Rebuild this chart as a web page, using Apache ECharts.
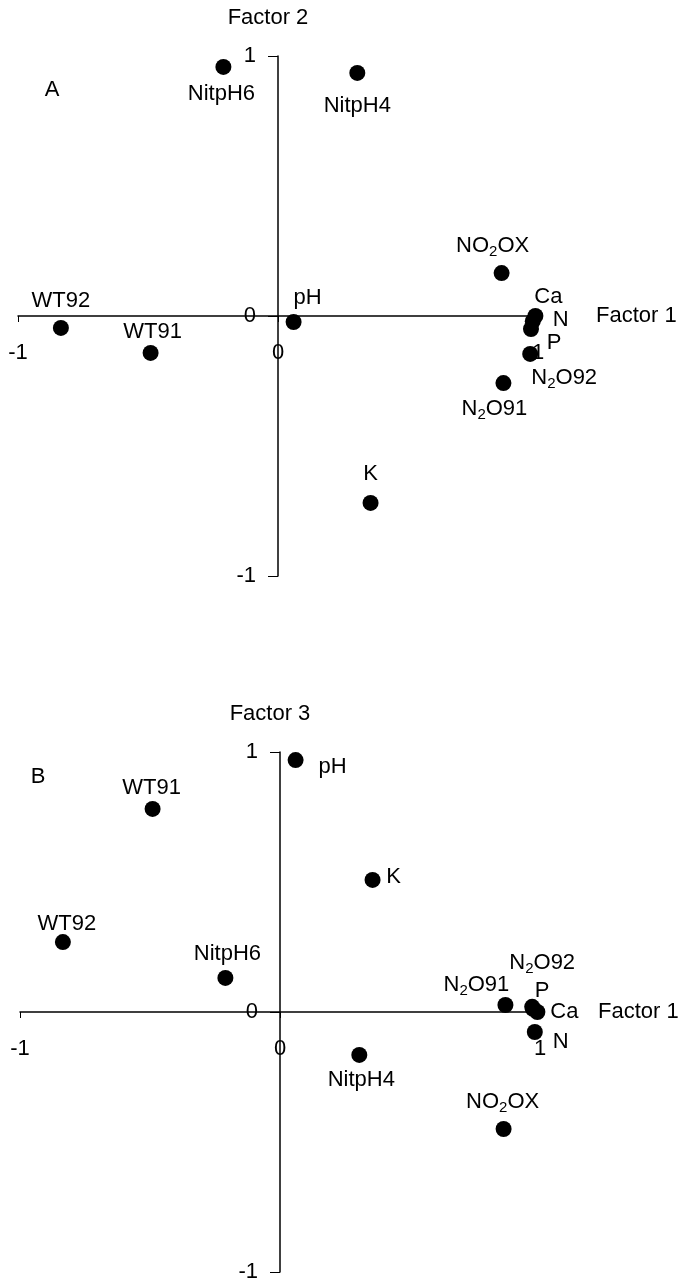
<!DOCTYPE html>
<html><head><meta charset="utf-8">
<script src="https://cdn.jsdelivr.net/npm/echarts@6/dist/echarts.min.js"></script>
<style>html,body{margin:0;padding:0;background:#fff}#c{width:685px;height:1281px}</style>
</head><body><div id="c"></div><script>
// ---- data ----
const names   = ['NitpH6','NitpH4','WT92','WT91','pH','NO2OX','Ca','N','P','N2O92','N2O91','K'];
const factor1 = [-0.21, 0.305, -0.835, -0.49, 0.06, 0.86, 0.99, 0.98, 0.973, 0.97, 0.867, 0.356];
const factor2 = [0.958, 0.935, -0.046, -0.142, -0.023, 0.165, 0.0, -0.02, -0.05, -0.146, -0.258, -0.719];
const factor3 = [0.131, -0.165, 0.269, 0.781, 0.969, -0.45, 0.0, -0.077, 0.012, 0.02, 0.027, 0.508];
const axisNames = ['Factor 1','Factor 2','Factor 3'];
const panelLabels = ['A','B'];

// ---- layout / label placement (style only) ----
const PLOT = 520;            // plot square size in px
const HALF = PLOT / 2;       // axes cross at the centre (value 0)
const offA = {NitpH6:[-2,27], NitpH4:[0,33], WT92:[0,-27], WT91:[2,-21], pH:[14,-24], NO2OX:[-9,-27],
  Ca:[13,-19], N:[28,-1], P:[23,14], N2O92:[34,24], N2O91:[-9,26], K:[0,-29]};
const offB = {NitpH6:[2,-24], NitpH4:[2,25], WT92:[4,-18], WT91:[-1,-21], pH:[37,7], NO2OX:[-1,-27],
  Ca:[27,0], N:[26,10], P:[9,-18], N2O92:[10,-44], N2O91:[-29,-20], K:[21,-3]};

const FONT = '"Liberation Sans", Arial, sans-serif';
const FS = 22;
const INK = '#000';

function fmt(n){
  const m = n.match(/^(NO|N)2(O.*)$/);
  if (m) return '{n|' + m[1] + '}{s|2}{n|' + m[2] + '}';
  return '{n|' + n + '}';
}
const rich = {
  n: {fontSize: FS, fontFamily: FONT, color: INK},
  s: {fontSize: 15, fontFamily: FONT, color: INK, padding: [12,0,0,0]}
};

function xAx(gi){
  return {gridIndex: gi, type:'value', min:-1, max:1, interval:1, position:'bottom', offset:-HALF,
    name: axisNames[0], nameLocation:'end', nameGap: 58, nameMoveOverlap:false,
    nameTextStyle:{fontSize:FS, fontFamily:FONT, color:INK, padding:[16,0,0,0]},
    axisLine:{show:true, onZero:false, lineStyle:{color:INK, width:1.5}},
    axisTick:{show:true, length:6, lineStyle:{color:INK, width:1}},
    axisLabel:{show:true, margin:26, fontSize:FS, fontFamily:FONT, color:INK, hideOverlap:false},
    splitLine:{show:false}};
}
function yAx(gi, nm){
  return {gridIndex: gi, type:'value', min:-1, max:1, interval:1, position:'left', offset:-HALF,
    name: nm, nameLocation:'end', nameGap: 27, nameMoveOverlap:false,
    nameTextStyle:{fontSize:FS, fontFamily:FONT, color:INK, padding:[0,20,0,0]},
    axisLine:{show:true, onZero:false, lineStyle:{color:INK, width:1.5}},
    axisTick:{show:true, length:10, lineStyle:{color:INK, width:1}},
    axisLabel:{show:true, margin:22, fontSize:FS, fontFamily:FONT, color:INK, hideOverlap:false},
    splitLine:{show:false}};
}
function ser(gi, ys, off){
  return {type:'scatter', xAxisIndex:gi, yAxisIndex:gi, symbol:'circle', symbolSize:16,
    itemStyle:{color:INK, opacity:1}, z:3,
    label:{show:true, position:'inside', align:'center', verticalAlign:'middle',
      formatter: p => fmt(p.name), rich: rich},
    emphasis:{disabled:true},
    data: names.map((n,i)=>({name:n, value:[factor1[i], ys[i]], label:{offset: off[n]}}))};
}

const chart = echarts.init(document.getElementById('c'), null, {renderer:'canvas'});
chart.setOption({
  backgroundColor:'#fff',
  animation:false,
  grid:[
    {left:18, top:56, width:PLOT, height:PLOT, containLabel:false, outerBoundsMode:'none'},
    {left:20, top:752, width:PLOT, height:PLOT, containLabel:false, outerBoundsMode:'none'}
  ],
  xAxis:[xAx(0), xAx(1)],
  yAxis:[yAx(0, axisNames[1]), yAx(1, axisNames[2])],
  series:[ser(0, factor2, offA), ser(1, factor3, offB)],
  graphic:[
    {type:'text', x:52, y:90, style:{text:panelLabels[0], font:FS+'px '+FONT, fill:INK, align:'center', verticalAlign:'middle'}},
    {type:'text', x:38, y:777, style:{text:panelLabels[1], font:FS+'px '+FONT, fill:INK, align:'center', verticalAlign:'middle'}}
  ]
});
</script></body></html>
